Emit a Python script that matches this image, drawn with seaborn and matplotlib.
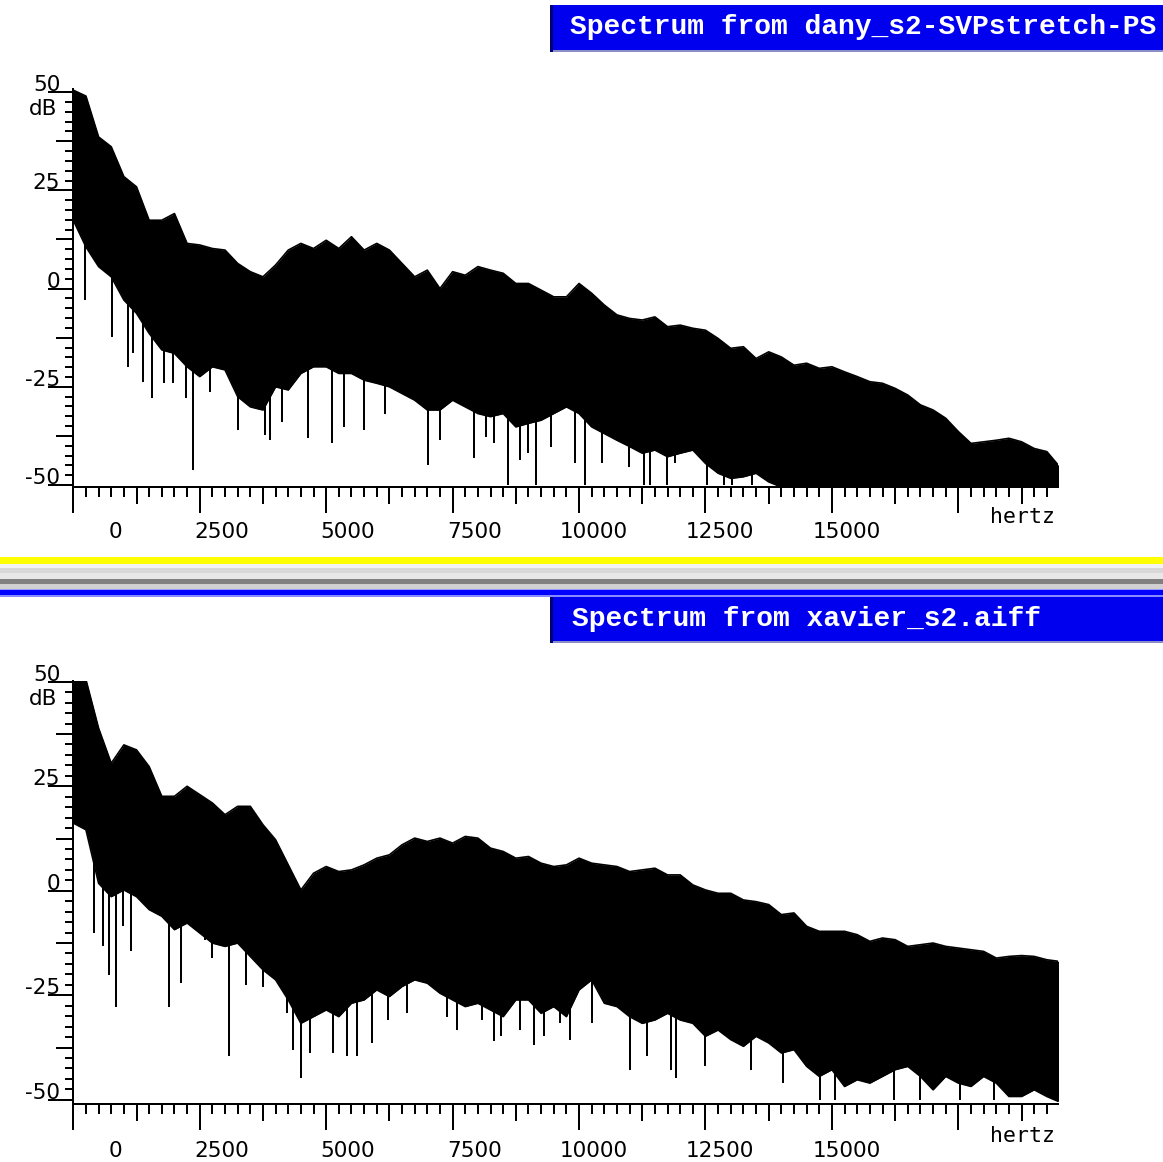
import numpy as np
import pandas as pd
import matplotlib
matplotlib.use("Agg")
import matplotlib.pyplot as plt
import seaborn as sns
from matplotlib.patches import Rectangle
from matplotlib.ticker import MultipleLocator
from matplotlib.transforms import blended_transform_factory, ScaledTranslation

# ---------------- data ----------------
freq_step_hz = 250  # envelope sampled every 250 Hz, from 0 Hz

top_upper_db = [50.5, 49.0, 38.6, 36.1, 28.5, 25.9, 17.4, 17.4, 19.1, 11.5,
                11.1, 10.2, 9.8, 6.4, 4.3, 3.0, 6.0, 9.8, 11.5, 10.2,
                12.3, 10.2, 13.2, 9.8, 11.5, 9.8, 6.4, 3.0, 4.7, 0.0,
                4.3, 3.4, 5.6, 4.7, 3.9, 1.3, 1.3, -0.4, -2.1, -2.1,
                1.3, -1.2, -4.2, -6.7, -7.6, -8.0, -7.2, -9.7, -9.3, -10.1,
                -10.6, -12.7, -15.2, -14.8, -17.8, -16.1, -17.4, -19.5, -19.0, -20.3,
                -19.9, -21.2, -22.4, -23.7, -24.1, -25.4, -27.1, -29.6, -30.9, -33.0,
                -36.4, -39.4, -39.0, -38.6, -38.1, -39.0, -40.7, -41.5, -45.3]
top_lower_db = [17.4, 10.6, 5.6, 3.0, -2.9, -6.3, -11.4, -15.6, -16.5, -19.9,
                -22.4, -19.9, -20.7, -27.5, -30.1, -30.9, -25.0, -25.8, -21.6, -19.9,
                -19.9, -21.6, -21.6, -23.3, -24.1, -25.0, -26.7, -28.4, -30.9, -30.9,
                -28.4, -30.1, -31.8, -32.6, -31.8, -35.2, -34.3, -33.5, -31.8, -30.1,
                -31.8, -35.2, -36.9, -38.6, -40.2, -41.9, -41.1, -42.8, -41.9, -41.1,
                -44.5, -47.0, -48.3, -47.9, -47.0, -49.2, -50.5, -50.5, -50.5, -50.5,
                -50.5, -50.5, -50.5, -50.5, -50.5, -50.5, -50.5, -50.5, -50.5, -50.5,
                -50.5, -50.5, -50.5, -50.5, -50.5, -50.5, -50.5, -50.5, -50.5]
top_dip_hz = [0, 230, 760, 1090, 1175, 1370, 1550, 1800, 1980, 2230, 2360, 2700,
              3260, 3790, 3880, 4120, 4650, 5120, 5355, 5740, 6165, 7020, 7250,
              7930, 8160, 8310, 8590, 8840, 9000, 9150, 9440, 9920, 10120, 10450,
              10980, 11275, 11410, 11740, 11900, 12530, 12860, 13020, 13420]
top_dip_db = [-16.0, -3.0, -12.3, -19.9, -16.5, -23.7, -27.9, -24.1, -24.1, -27.9, -46.2, -26.3,
              -36.0, -37.3, -38.6, -33.9, -38.1, -39.4, -35.2, -36.0, -31.8, -44.9, -38.6,
              -43.2, -37.7, -39.4, -50.0, -43.6, -41.9, -50.0, -40.2, -44.5, -50.0, -44.5,
              -45.3, -50.0, -50.0, -50.0, -44.5, -50.0, -50.0, -50.0, -50.0]

bot_upper_db = [50.5, 50.5, 38.9, 30.5, 34.9, 33.7, 29.7, 22.6, 22.6, 25.0,
                23.0, 21.0, 18.2, 20.2, 20.2, 15.8, 12.2, 6.2, 0.2, 4.2,
                5.8, 4.6, 5.0, 6.2, 7.8, 8.6, 11.0, 12.6, 11.8, 12.6,
                11.4, 13.0, 12.6, 10.2, 9.4, 7.8, 8.2, 6.6, 5.8, 6.2,
                7.8, 6.6, 6.2, 5.8, 4.6, 5.0, 5.4, 3.8, 3.8, 1.4,
                0.2, -0.6, -0.6, -2.2, -2.6, -3.3, -5.7, -5.3, -8.5, -9.7,
                -9.7, -9.7, -10.5, -12.1, -11.3, -11.7, -13.3, -12.9, -12.5, -13.3,
                -13.7, -14.1, -14.5, -16.1, -15.7, -15.5, -15.7, -16.5, -16.9]
bot_lower_db = [16.2, 14.6, 1.8, -1.4, 0.2, -1.4, -4.5, -6.1, -9.3, -7.7,
                -10.1, -12.5, -13.3, -12.5, -15.7, -18.9, -21.3, -26.1, -31.7, -30.1,
                -28.5, -30.1, -26.9, -26.1, -23.7, -25.3, -22.9, -21.3, -22.1, -24.5,
                -26.1, -27.7, -26.9, -28.5, -30.1, -26.1, -26.1, -29.3, -27.7, -30.1,
                -23.7, -21.3, -26.9, -27.7, -30.1, -31.7, -30.9, -29.3, -30.9, -31.7,
                -34.8, -33.3, -35.6, -37.2, -34.8, -36.4, -38.8, -38.0, -42.0, -44.4,
                -42.8, -46.8, -45.2, -46.0, -44.4, -42.8, -42.0, -44.4, -47.6, -44.4,
                -46.0, -46.8, -44.4, -46.0, -49.2, -49.2, -47.6, -49.2, -50.5]
bot_dip_hz = [0, 410, 590, 710, 850, 990, 1140, 1890, 2120, 2600, 2750, 3080, 3410,
              3750, 4220, 4350, 4500, 4680, 5140, 5410, 5610, 5900, 6230, 6600, 7390,
              7580, 8080, 8310, 8460, 8840, 9100, 9300, 9630, 9830, 10250, 11010, 11340,
              11820, 11920, 12500, 13390, 14040, 14770, 15070, 16220, 16750, 17540,
              18200, 19390]
bot_dip_db = [-37.2, -10.1, -13.3, -20.1, -27.7, -8.5, -14.5, -27.7, -22.1, -11.7, -16.1, -39.6, -22.5,
              -22.9, -29.3, -38.0, -44.8, -38.8, -38.8, -39.6, -39.6, -36.4, -30.9, -29.3, -30.1,
              -33.3, -30.9, -36.0, -34.8, -33.3, -36.8, -34.8, -31.7, -35.6, -31.7, -42.8, -39.6,
              -42.8, -44.8, -42.0, -42.8, -46.0, -50.0, -50.0, -50.0, -50.0, -50.0,
              -50.0, -50.0]

x_major_ticks = [0, 2500, 5000, 7500, 10000, 12500, 15000, 17500]
x_mid_ticks = [1250, 3750, 6250, 8750, 11250, 13750, 16250, 18750]
x_label_values = [0, 2500, 5000, 7500, 10000, 12500, 15000]
x_label_texts = ["0", "2500", "5000", "7500", "10000", "12500", "15000"]
y_major_ticks = [50, 25, 0, -25, -50]
y_mid_ticks = [37.5, 12.5, -12.5, -37.5]
y_label_texts = ["50", "25", "0", "-25", "-50"]
titles = ["Spectrum from dany_s2-SVPstretch-PS", "Spectrum from xavier_s2.aiff"]
x_unit = "hertz"
y_unit = "dB"

# ---------------- figure ----------------
W, H = 1163, 1162
sns.set_style("white")
plt.rcParams['font.family'] = ['DejaVu Sans']
fig = plt.figure(figsize=(W / 100, H / 100), dpi=100)
fig.patch.set_facecolor("white")
PT = 0.72  # points per pixel at 100 dpi


def px_rect(x0, y0, x1, y1, color, z=0):
    fig.add_artist(Rectangle((x0 / W, 1 - y1 / H), (x1 - x0) / W, (y1 - y0) / H,
                             transform=fig.transFigure, facecolor=color,
                             edgecolor='none', zorder=z))


def off(dx, dy):
    return ScaledTranslation(dx / 100, dy / 100, fig.dpi_scale_trans)


def panel(box, ylim, upper, lower, dip_hz, dip_db, xlab_dy, hertz_dy):
    left, top, right, bottom = box
    ax = fig.add_axes([left / W, 1 - bottom / H, (right - left) / W, (bottom - top) / H])
    freq = np.arange(len(upper)) * freq_step_hz
    df = pd.DataFrame({"hz": freq, "upper": upper, "lower": lower})
    ax.fill_between(df["hz"], df["lower"], df["upper"], color="black", lw=0)
    sns.lineplot(data=df, x="hz", y="upper", ax=ax, color="black", lw=1.2)
    sns.lineplot(data=df, x="hz", y="lower", ax=ax, color="black", lw=1.2)
    dips = pd.DataFrame({"hz": dip_hz, "db": dip_db})
    ax.vlines(dips["hz"], dips["db"], np.interp(dips["hz"], freq, lower) + 1.0,
              colors="black", lw=2 * PT)
    ax.set_xlim(0, 19470)
    ax.set_ylim(*ylim)
    ax.set_xlabel("")
    ax.set_ylabel("")
    for s in ["top", "right"]:
        ax.spines[s].set_visible(False)
    for s in ["left", "bottom"]:
        ax.spines[s].set_linewidth(2 * PT)
        ax.spines[s].set_color("black")
    ax.set_xticks(x_major_ticks)
    ax.set_yticks(y_major_ticks)
    ax.xaxis.set_minor_locator(MultipleLocator(250))
    ax.yaxis.set_minor_locator(MultipleLocator(2.5))
    ax.tick_params(which="both", direction="out", width=2 * PT, color="black",
                   labelbottom=False, labelleft=False, bottom=True, left=True)
    ax.tick_params(axis="x", which="major", length=26 * PT)
    ax.tick_params(axis="x", which="minor", length=10 * PT)
    ax.tick_params(axis="y", which="major", length=25 * PT)
    ax.tick_params(axis="y", which="minor", length=8 * PT)
    secx = ax.secondary_xaxis("bottom")
    secx.set_xticks(x_mid_ticks, labels=[""] * len(x_mid_ticks))
    secx.tick_params(direction="out", length=17 * PT, width=2 * PT, color="black")
    secx.spines["bottom"].set_linewidth(2 * PT)
    secy = ax.secondary_yaxis("left")
    secy.set_yticks(y_mid_ticks, labels=[""] * len(y_mid_ticks))
    secy.tick_params(direction="out", length=17 * PT, width=2 * PT, color="black")
    secy.spines["left"].set_linewidth(2 * PT)

    ty = blended_transform_factory(ax.transAxes, ax.transData)
    for v, t in zip(y_major_ticks, y_label_texts):
        ax.text(0, v, t, transform=ty + off(-13, 1), ha="right", va="baseline",
                fontsize=15.5, color="black")
    ax.text(0, 50, y_unit, transform=ty + off(-16, -23), ha="right", va="baseline",
            fontsize=15.5, color="black")
    tx = blended_transform_factory(ax.transData, ax.transAxes)
    for v, t in zip(x_label_values, x_label_texts):
        ax.text(v, 0, t, transform=tx + off(49, xlab_dy), ha="right", va="baseline",
                fontsize=15.5, color="black")
    ax.text(1, 0, x_unit, transform=ax.transAxes + off(-3, hertz_dy), ha="right",
            va="baseline", fontsize=15.5, family="DejaVu Sans Mono", color="black")
    return ax


panel((73.3, 89, 1058, 487), (-50.5, 50.8), top_upper_db, top_lower_db,
      top_dip_hz, top_dip_db, -51, -36)
panel((73.3, 680.5, 1058, 1104), (-51.0, 50.3), bot_upper_db, bot_lower_db,
      bot_dip_hz, bot_dip_db, -53, -38)

# ---------------- window chrome ----------------
# title bars
for (y0, y1, tx, base), title in zip([(5, 50, 570, 33.5), (597, 641, 572, 625.5)], titles):
    px_rect(550, y0, 553, y1 + 2, "#000070", z=5)
    px_rect(553, y0, W, y1, "#0000EE", z=5)
    px_rect(553, y1, W, y1 + 2, "#8C8CC8", z=5)
    fig.text(tx / W, 1 - base / H, title, ha="left", va="baseline", color="white",
             fontsize=20.2, family="Liberation Mono", fontweight="bold", zorder=6)

# separator between the two windows
px_rect(0, 557, W, 564, "#FFFF00", z=5)
px_rect(0, 564, W, 568, "#F2F2F2", z=5)
px_rect(0, 568, W, 573, "#D8D8D8", z=5)
px_rect(0, 573, W, 579, "#E8E8E8", z=5)
px_rect(0, 579, W, 584, "#808080", z=5)
px_rect(0, 584, W, 589, "#D0D0D0", z=5)
px_rect(0, 589, W, 590, "#9999FF", z=5)
px_rect(0, 590, W, 595, "#0000FF", z=5)
px_rect(0, 595, W, 597, "#8888FF", z=5)

fig.savefig("out.png", dpi=100, facecolor="white")
